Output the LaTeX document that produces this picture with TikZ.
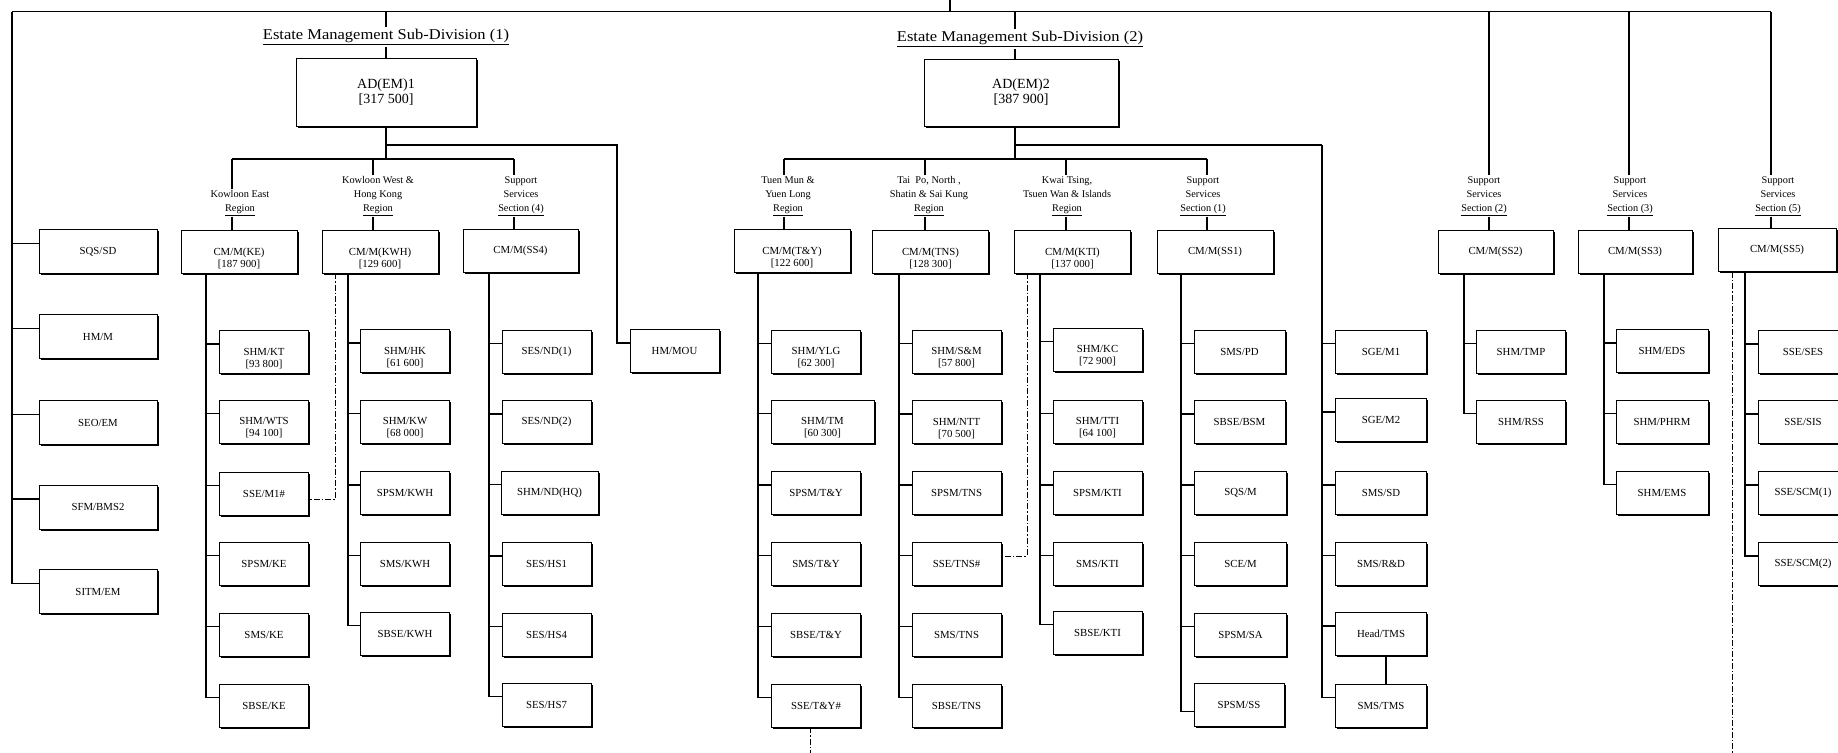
\documentclass[tikz,border=0pt]{standalone}
\usepackage{fontspec}
\setmainfont{Liberation Serif}
\newfontfamily\titlefam{Liberation Serif}[FakeStretch=1.1]
\usetikzlibrary{shadows}
\newcommand\tw[2]{\rule{0pt}{20pt}#1\\{}#2}
\newcommand\cmt[2]{\rule{0pt}{22pt}#1\\{}#2}
\begin{document}
\begin{tikzpicture}[x=1pt,y=-1pt,
 conn/.style={line width=1.35pt},
 dsh/.style={line width=0.9pt,dash pattern=on 6pt off 2pt on 1.5pt off 2pt},
 bx/.style={draw,line width=0.8pt,fill=white,minimum width=89pt,minimum height=43pt,inner sep=1pt,align=center,font=\fontsize{10.8}{12}\selectfont,drop shadow={shadow xshift=1.6pt,shadow yshift=-1.6pt,fill=black,opacity=1}},
 lbox/.style={bx,minimum width=118pt,minimum height=44pt},
 cmbox/.style={bx,minimum width=116pt},
 adbox/.style={bx,font=\fontsize{14}{15}\selectfont},
 lbl/.style={align=center,inner sep=1pt,font=\fontsize{10.3}{14}\selectfont,anchor=south},
 ttl/.style={inner sep=2pt,anchor=base,font=\titlefam\fontsize{15}{18}\selectfont}
]
\useasboundingbox (0,0) rectangle (1838,752);

% ---------- top level ----------
\coordinate (topL) at (12,11.7);
\coordinate (topR) at (1771,11.7);
\coordinate (up) at (950,0);
\coordinate (e2) at (1015,11.7);
\coordinate (dSS2) at (1489,11.7);
\coordinate (dSS3) at (1629,11.7);
\coordinate (dSS5) at (1771,11.7);

\node[ttl] (t1) at (386,40) {\underline{Estate Management Sub-Division (1)}};
\node[ttl] (t2) at (1020,42) {\underline{Estate Management Sub-Division (2)}};
\node[adbox,minimum width=180pt,minimum height=68pt] (ad1) at (386,92) {AD(EM)1\\{}[317 500]};
\node[adbox,minimum width=194pt,minimum height=67pt] (ad2) at (1021,92.5) {AD(EM)2\\{}[387 900]};

% ---------- left column ----------
\node[lbox] (sqs) at (98,251.5) {SQS/SD};
\node[lbox] (hmm) at (98,336.5) {HM/M};
\node[lbox] (seo) at (98,422.5) {SEO/EM};
\node[lbox] (sfm) at (98,507) {SFM/BMS2};
\node[lbox] (sitm) at (98,591.5) {SITM/EM};

% ---------- CM boxes ----------
\node[cmbox] (cmKE) at (239,251.5) {\cmt{CM/M(KE)}{[187 900]}};
\node[cmbox] (cmKWH) at (380,251.5) {\cmt{CM/M(KWH)}{[129 600]}};
\node[cmbox,minimum width=115pt] (cmSS4) at (520.5,251) {CM/M(SS4)};
\node[cmbox] (cmTY) at (792,250.5) {\cmt{CM/M(T\&Y)}{[122 600]}};
\node[cmbox] (cmTNS) at (930.5,251.5) {\cmt{CM/M(TNS)}{[128 300]}};
\node[cmbox] (cmKTI) at (1072.5,251.5) {\cmt{CM/M(KTI)}{[137 000]}};
\node[cmbox] (cmSS1) at (1215,251.5) {CM/M(SS1)};
\node[cmbox,minimum width=115pt] (cmSS2) at (1495.5,252) {CM/M(SS2)};
\node[cmbox,minimum width=114pt] (cmSS3) at (1635,252) {CM/M(SS3)};
\node[cmbox,minimum width=118pt] (cmSS5) at (1777,250) {CM/M(SS5)};

% ---------- labels ----------
\node[lbl] (lKE) at (240,216.5) {Kowloon East\\\underline{Region}};
\node[lbl] (lKWH) at (378,216.5) {Kowloon West \&\\Hong Kong\\\underline{Region}};
\node[lbl] (lSS4) at (521,216.5) {Support\\Services\\\underline{Section (4)}};
\node[lbl] (lTY) at (788,216.5) {Tuen Mun \&\\Yuen Long\\\underline{Region}};
\node[lbl] (lTNS) at (929,216.5) {Tai\ \ Po, North ,\\Shatin \& Sai Kung\\\underline{Region}};
\node[lbl] (lKTI) at (1067,216.5) {Kwai Tsing,\\Tsuen Wan \& Islands\\\underline{Region}};
\node[lbl] (lSS1) at (1203,216.5) {Support\\Services\\\underline{Section (1)}};
\node[lbl] (lSS2) at (1484,216.5) {Support\\Services\\\underline{Section (2)}};
\node[lbl] (lSS3) at (1630,216.5) {Support\\Services\\\underline{Section (3)}};
\node[lbl] (lSS5) at (1778,216.5) {Support\\Services\\\underline{Section (5)}};

% ---------- KE column ----------
\node[bx] (ke1) at (264,352) {\tw{SHM/KT}{[93 800]}};
\node[bx] (ke2) at (264,421.5) {\tw{SHM/WTS}{[94 100]}};
\node[bx] (ke3) at (264,493.5) {SSE/M1\#};
\node[bx] (ke4) at (264,563.5) {SPSM/KE};
\node[bx] (ke5) at (264,634.5) {SMS/KE};
\node[bx] (ke6) at (264,705.5) {SBSE/KE};
% ---------- KWH column ----------
\node[bx] (kwh1) at (405,351) {\tw{SHM/HK}{[61 600]}};
\node[bx] (kwh2) at (405,421.5) {\tw{SHM/KW}{[68 000]}};
\node[bx] (kwh3) at (405,493) {SPSM/KWH};
\node[bx] (kwh4) at (405,563.5) {SMS/KWH};
\node[bx] (kwh5) at (405,633.5) {SBSE/KWH};
% ---------- SS4 column ----------
\node[bx] (sf1) at (546.5,351.5) {SES/ND(1)};
\node[bx] (sf2) at (546.5,422) {SES/ND(2)};
\node[bx,minimum width=97pt] (sf3) at (549.5,492.5) {SHM/ND(HQ)};
\node[bx] (sf4) at (546.5,564) {SES/HS1};
\node[bx] (sf5) at (546.5,634.5) {SES/HS4};
\node[bx] (sf6) at (546.5,704.5) {SES/HS7};
% ---------- HM/MOU ----------
\node[bx] (hmmou) at (674.5,351) {HM/MOU};
% ---------- T&Y column ----------
\node[bx] (ty1) at (816,351.5) {\tw{SHM/YLG}{[62 300]}};
\node[bx,minimum width=103pt] (ty2) at (822.5,421.5) {\tw{SHM/TM}{[60 300]}};
\node[bx] (ty3) at (816,493) {SPSM/T\&Y};
\node[bx] (ty4) at (816,563.5) {SMS/T\&Y};
\node[bx] (ty5) at (816,634.5) {SBSE/T\&Y};
\node[bx] (ty6) at (816,705.5) {SSE/T\&Y\#};
% ---------- TNS column ----------
\node[bx] (tns1) at (956.5,351.5) {\tw{SHM/S\&M}{[57 800]}};
\node[bx] (tns2) at (956.5,422) {\tw{SHM/NTT}{[70 500]}};
\node[bx] (tns3) at (956.5,493) {SPSM/TNS};
\node[bx] (tns4) at (956.5,563.5) {SSE/TNS\#};
\node[bx] (tns5) at (956.5,634.5) {SMS/TNS};
\node[bx] (tns6) at (956.5,705.5) {SBSE/TNS};
% ---------- KTI column ----------
\node[bx] (kti1) at (1097.5,349.5) {\tw{SHM/KC}{[72 900]}};
\node[bx] (kti2) at (1097.5,421.5) {\tw{SHM/TTI}{[64 100]}};
\node[bx] (kti3) at (1097.5,493) {SPSM/KTI};
\node[bx] (kti4) at (1097.5,563.5) {SMS/KTI};
\node[bx] (kti5) at (1097.5,632.5) {SBSE/KTI};
% ---------- SS1 column ----------
\node[bx,minimum width=91pt] (ss1a) at (1239.5,351.5) {SMS/PD};
\node[bx,minimum width=91pt] (ss1b) at (1239.5,422) {SBSE/BSM};
\node[bx,minimum width=92pt] (ss1c) at (1240.5,493) {SQS/M};
\node[bx,minimum width=92pt] (ss1d) at (1240.5,563.5) {SCE/M};
\node[bx,minimum width=92pt] (ss1e) at (1240.5,634.5) {SPSM/SA};
\node[bx,minimum width=90pt] (ss1f) at (1239,704.5) {SPSM/SS};
% ---------- SGE column ----------
\node[bx,minimum width=91pt] (sge1) at (1381,351.5) {SGE/M1};
\node[bx,minimum width=91pt] (sge2) at (1381,420) {SGE/M2};
\node[bx,minimum width=91pt] (sge3) at (1381,493) {SMS/SD};
\node[bx,minimum width=91pt] (sge4) at (1381,563.5) {SMS/R\&D};
\node[bx,minimum width=91pt] (sge5) at (1381,634) {Head/TMS};
\node[bx,minimum width=91pt] (sge6) at (1381,705.5) {SMS/TMS};
% ---------- SS2 column ----------
\node[bx] (ss2a) at (1521,351.5) {SHM/TMP};
\node[bx] (ss2b) at (1521,421.5) {SHM/RSS};
% ---------- SS3 column ----------
\node[bx,minimum width=92pt] (ss3a) at (1662,351) {SHM/EDS};
\node[bx,minimum width=92pt] (ss3b) at (1662,421.5) {SHM/PHRM};
\node[bx,minimum width=92pt] (ss3c) at (1662,492.5) {SHM/EMS};
% ---------- SS5 column ----------
\node[bx,minimum width=90pt] (ss5a) at (1803,352) {SSE/SES};
\node[bx,minimum width=90pt] (ss5b) at (1803,422) {SSE/SIS};
\node[bx,minimum width=90pt] (ss5c) at (1803,493) {SSE/SCM(1)};
\node[bx,minimum width=90pt] (ss5d) at (1803,564) {SSE/SCM(2)};

% ---------- top connectors ----------
\draw[conn] (topL) -- (topR);
\draw[conn] (up) -- (up |- topL);
\draw[conn] (t1.north |- topL) -- (t1.north);
\draw[conn] (t1.south) -- (ad1.north);
\draw[conn] (e2) -- (e2 |- t2.north);
\draw[conn] (e2 |- t2.south) -- (e2 |- ad2.north);
\foreach \n in {sqs,hmm,seo,sfm,sitm} \draw[conn] (topL) |- ([yshift=8pt]\n.west);

% ---------- sub-division 1 ----------
\coordinate (dKE) at (232,159);
\coordinate (dKWH) at (373,159);
\coordinate (dSS4) at (514,159);
\coordinate (mou) at (617,145);
\draw[conn] (ad1.south) -- (ad1.south |- dKE);
\draw[conn] (dKE) -- (dSS4);
\draw[conn] (ad1.south |- mou) -- (mou) |- ([yshift=8pt]hmmou.west);
\foreach \d/\l/\c in {dKE/lKE/cmKE,dKWH/lKWH/cmKWH,dSS4/lSS4/cmSS4}{
  \draw[conn] (\d) -- (\d |- \l.north);
  \draw[conn] (\d |- \l.south) -- (\d |- \c.north);
}

% ---------- sub-division 2 ----------
\coordinate (dTY) at (784,159);
\coordinate (dTNS) at (925,159);
\coordinate (dKTI) at (1066,159);
\coordinate (dSS1) at (1207,159);
\coordinate (sge) at (1322,145);
\draw[conn] (e2 |- ad2.south) -- (e2 |- dTY);
\draw[conn] (dTY) -- (dSS1);
\draw[conn] (e2 |- sge) -- (sge);
\foreach \d/\l/\c in {dTY/lTY/cmTY,dTNS/lTNS/cmTNS,dKTI/lKTI/cmKTI,dSS1/lSS1/cmSS1,dSS2/lSS2/cmSS2,dSS3/lSS3/cmSS3,dSS5/lSS5/cmSS5}{
  \draw[conn] (\d) -- (\d |- \l.north);
  \draw[conn] (\d |- \l.south) -- (\d |- \c.north);
}

% ---------- column trunks ----------
\coordinate (cKE) at ([xshift=-33pt]cmKE.south);
\coordinate (cKWH) at ([xshift=-32pt]cmKWH.south);
\coordinate (cSS4) at ([xshift=-31.5pt]cmSS4.south);
\coordinate (cTY) at ([xshift=-34pt]cmTY.south);
\coordinate (cTNS) at ([xshift=-31.5pt]cmTNS.south);
\coordinate (cKTI) at ([xshift=-32.5pt]cmKTI.south);
\coordinate (cSS1) at ([xshift=-34pt]cmSS1.south);
\coordinate (cSS2) at ([xshift=-31.5pt]cmSS2.south);
\coordinate (cSS3) at ([xshift=-31pt]cmSS3.south);
\coordinate (cSS5) at ([xshift=-32pt]cmSS5.south);

\foreach \n in {1,...,6} \draw[conn] (cKE) |- ([yshift=8pt]ke\n.west);
\foreach \n in {1,...,5} \draw[conn] (cKWH) |- ([yshift=8pt]kwh\n.west);
\foreach \n in {1,...,6} \draw[conn] (cSS4) |- ([yshift=8pt]sf\n.west);
\foreach \n in {1,...,6} \draw[conn] (cTY) |- ([yshift=8pt]ty\n.west);
\foreach \n in {1,...,6} \draw[conn] (cTNS) |- ([yshift=8pt]tns\n.west);
\foreach \n in {1,...,5} \draw[conn] (cKTI) |- ([yshift=8pt]kti\n.west);
\foreach \n in {a,b,c,d,e} \draw[conn] (cSS1) |- ([yshift=8pt]ss1\n.west);
\draw[conn] (cSS1) |- ([yshift=-7pt]ss1f.west);
\foreach \n in {1,...,6} \draw[conn] (sge) |- ([yshift=8pt]sge\n.west);
\draw[conn] ([xshift=5pt]sge5.south) -- ([xshift=5pt]sge6.north);
\foreach \n in {a,b} \draw[conn] (cSS2) |- ([yshift=8pt]ss2\n.west);
\foreach \n in {a,b,c} \draw[conn] (cSS3) |- ([yshift=8pt]ss3\n.west);
\foreach \n in {a,b,c,d} \draw[conn] (cSS5) |- ([yshift=8pt]ss5\n.west);

% ---------- dash-dot links ----------
\draw[dsh] ([xshift=-45pt]cmKWH.south) |- ([yshift=-6pt]ke3.east);
\draw[dsh] ([xshift=-45.5pt]cmKTI.south) |- ([yshift=7.5pt]tns4.east);
\draw[dsh] ([xshift=-6pt]ty6.south) -- ++(0,30);
\draw[dsh] ([xshift=-45pt]cmSS5.south) -- ++(0,500);
\end{tikzpicture}
\end{document}
